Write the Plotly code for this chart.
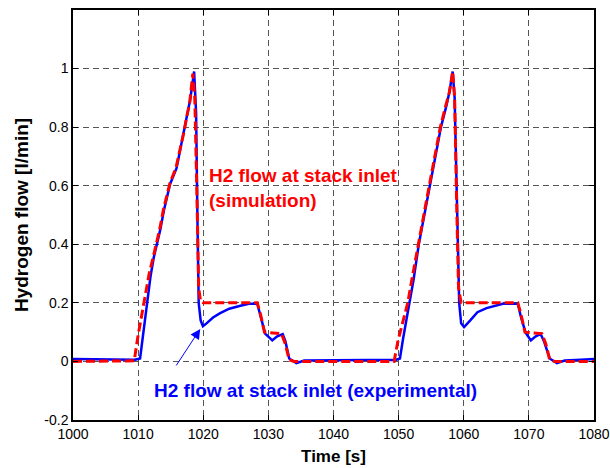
import plotly.graph_objects as go

# Experimental (blue)
t_exp = [1000, 1005, 1008, 1009.5, 1010.3, 1010.8, 1011.3, 1011.9, 1012.4, 1012.9, 1013.4, 1014.0,
         1014.5, 1014.9, 1015.9, 1016.5, 1017.2, 1017.5, 1018.0, 1018.6, 1018.9, 1019.1,
         1019.3, 1019.6, 1019.95, 1020.5, 1021.5, 1022.6, 1024.0, 1025.7, 1027.0, 1028.3, 1028.8,
         1029.5, 1030.6, 1031.3, 1032.2, 1032.6, 1033.2, 1034.3, 1035.5, 1040, 1045, 1049.5,
         1050.2, 1050.7, 1051.7, 1052.3, 1053.1, 1053.6, 1054.8, 1055.5, 1056.5, 1057.3, 1057.8,
         1058.3, 1058.6, 1059.0, 1059.3, 1059.6, 1060.05, 1061.0, 1062.1, 1063.5, 1064.7, 1066.0,
         1068.3, 1068.8, 1069.5, 1070.3, 1071.0, 1071.8, 1072.3, 1073.2, 1074.3, 1075.5, 1078, 1080]
q_exp = [0.008, 0.008, 0.007, 0.006, 0.01, 0.1, 0.2, 0.29, 0.355, 0.40, 0.45, 0.52,
         0.57, 0.605, 0.66, 0.725, 0.80, 0.845, 0.895, 0.99, 0.85, 0.5,
         0.2, 0.14, 0.12, 0.13, 0.15, 0.165, 0.18, 0.19, 0.197, 0.197, 0.15,
         0.095, 0.072, 0.085, 0.093, 0.07, 0.01, -0.006, 0.003, 0.005, 0.005, 0.005,
         0.01, 0.08, 0.2, 0.28, 0.40, 0.46, 0.6, 0.68, 0.8, 0.87, 0.92,
         0.99, 0.9, 0.5, 0.2, 0.13, 0.117, 0.14, 0.168, 0.182, 0.19, 0.197,
         0.197, 0.15, 0.098, 0.072, 0.085, 0.094, 0.07, 0.01, -0.006, 0.003, 0.006, 0.008]

# Simulation (red)
t_sim = [1000, 1005, 1009.4, 1010.0, 1010.9, 1011.7, 1012.3, 1012.8, 1013.3, 1013.9, 1014.4,
         1014.9, 1015.8, 1016.5, 1017.1, 1017.5, 1017.9, 1018.4, 1018.7, 1019.0, 1019.3, 1019.6, 1020.0,
         1028.3, 1028.8, 1029.4, 1032.0, 1032.6, 1033.2, 1034.0, 1049.3, 1049.9, 1051.4,
         1052.2, 1053.0, 1053.6, 1054.7, 1055.3, 1056.4, 1057.2, 1057.8, 1058.3, 1058.6,
         1058.9, 1059.2, 1059.6, 1068.3, 1068.8, 1069.4, 1072.0, 1072.6, 1073.2, 1074.0, 1080]
q_sim = [0.0, 0.0, 0.002, 0.09, 0.2, 0.3, 0.355, 0.40, 0.45, 0.52, 0.57,
         0.61, 0.66, 0.725, 0.79, 0.84, 0.88, 0.983, 0.9, 0.6, 0.25, 0.205, 0.2,
         0.2, 0.16, 0.1, 0.095, 0.06, 0.005, 0.0, 0.0, 0.07, 0.2,
         0.3, 0.40, 0.47, 0.6, 0.67, 0.8, 0.87, 0.92, 0.99, 0.9,
         0.55, 0.25, 0.2, 0.2, 0.16, 0.1, 0.095, 0.06, 0.005, 0.0, 0.0]

x_ticks = [1000, 1010, 1020, 1030, 1040, 1050, 1060, 1070, 1080]
y_ticks = [-0.2, 0, 0.2, 0.4, 0.6, 0.8, 1]
y_tick_labels = ["-0.2", "0", "0.2", "0.4", "0.6", "0.8", "1"]

FONT = "Arial, 'Liberation Sans', sans-serif"

fig = go.Figure()
fig.add_trace(go.Scatter(x=t_exp, y=q_exp, mode="lines",
                         line=dict(color="#0000FF", width=2.5), name="experimental"))
fig.add_trace(go.Scatter(x=t_sim, y=q_sim, mode="lines",
                         line=dict(color="#FF0000", width=3, dash="9px,4px"), name="simulation"))

axis_common = dict(showline=True, linecolor="black", linewidth=1.5, mirror="ticks",
                   ticks="inside", ticklen=5, tickcolor="black",
                   showgrid=True, gridcolor="#555555", gridwidth=1, griddash="6px,4px",
                   zeroline=False, tickfont=dict(family=FONT, size=14, color="black"),
                   ticklabeloverflow="allow", automargin=False)

fig.update_xaxes(range=[1000, 1080], tickvals=x_ticks, **axis_common,
                 title=dict(text="<b>Time [s]</b>", font=dict(family=FONT, size=17, color="black"),
                            standoff=10))
fig.update_yaxes(range=[-0.2, 1.2], tickvals=y_ticks, ticktext=y_tick_labels, **axis_common,
                 title=dict(text="<b>Hydrogen flow [l/min]</b>", font=dict(family=FONT, size=19, color="black"),
                            standoff=11))

fig.add_annotation(x=1020.57, y=0.593, xref="x", yref="y", xanchor="left", yanchor="middle",
                   align="left", showarrow=False,
                   text="<b>H2 flow at stack inlet<br>(simulation)</b>",
                   font=dict(family=FONT, size=19, color="#FF0000"))
fig.add_annotation(x=1037.2, y=-0.1, xref="x", yref="y", xanchor="center", yanchor="middle",
                   showarrow=False,
                   text="<b>H2 flow at stack inlet (experimental)</b>",
                   font=dict(family=FONT, size=19, color="#0000FF"))
fig.add_annotation(x=1019.54, y=0.111, ax=1015.7, ay=-0.019, xref="x", yref="y",
                   axref="x", ayref="y", text="", showarrow=True,
                   arrowhead=2, arrowsize=2, arrowwidth=1, arrowcolor="#0000FF", standoff=0)

fig.update_layout(width=610, height=468, margin=dict(l=73, r=16, t=10, b=48),
                  paper_bgcolor="white", plot_bgcolor="white", showlegend=False,
                  font=dict(family=FONT, color="black"))

fig.write_html("out.html")
